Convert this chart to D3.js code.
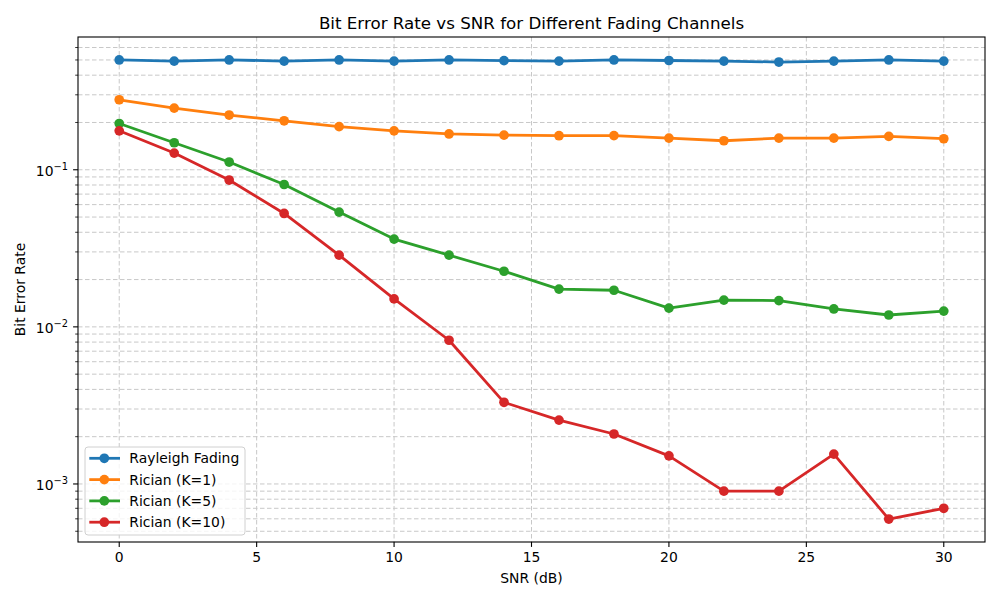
<!DOCTYPE html>
<html lang="en">
<head>
<meta charset="UTF-8">
<title>Bit Error Rate vs SNR</title>
<script src="https://cdnjs.cloudflare.com/ajax/libs/d3/7.9.0/d3.min.js"></script>
<style>
  body { margin: 0; background: #fff; font-family: 'DejaVu Sans', sans-serif; }
  svg text { font-family: 'DejaVu Sans', sans-serif; fill: #000; }
</style>
</head>
<body>
<div id="root"></div>
<script>
// data
const snr = [0, 2, 4, 6, 8, 10, 12, 14, 16, 18, 20, 22, 24, 26, 28, 30]
const rayleigh = [0.500, 0.492, 0.500, 0.492, 0.500, 0.492, 0.500, 0.495, 0.492, 0.500, 0.496, 0.492, 0.485, 0.492, 0.500, 0.492]
const ricianK1 = [0.279, 0.247, 0.223, 0.205, 0.188, 0.177, 0.169, 0.166, 0.1647, 0.165, 0.159, 0.153, 0.159, 0.159, 0.163, 0.1576]
const ricianK5 = [0.197, 0.1486, 0.112, 0.0806, 0.0538, 0.0362, 0.0286, 0.0226, 0.0174, 0.0171, 0.01315, 0.0148, 0.0147, 0.0130, 0.0119, 0.0126]
const ricianK10 = [0.177, 0.1277, 0.0860, 0.0527, 0.0286, 0.01507, 0.00822, 0.00331, 0.00255, 0.00208, 0.00151, 0.00090, 0.00090, 0.00155, 0.000598, 0.00070]
const seriesNames = ['Rayleigh Fading', 'Rician (K=1)', 'Rician (K=5)', 'Rician (K=10)']
const colors = ['#1f77b4', '#ff7f0e', '#2ca02c', '#d62728']
const xTicks = [0, 5, 10, 15, 20, 25, 30]
const yMajorExp = [-3, -2, -1]

const series = [rayleigh, ricianK1, ricianK5, ricianK10].map((vals, i) => ({
    name: seriesNames[i],
    color: colors[i],
    points: vals.map((v, j) => ({ x: snr[j], y: v }))
}))

const W = 1000, H = 600
const margin = { top: 37, left: 78, right: 15, bottom: 58 }
const w = W - margin.left - margin.right
const h = H - margin.top - margin.bottom

const svg = d3.select('#root').append('svg')
    .attr('width', W).attr('height', H)

// matplotlib style 5% margins (log space for y)
const xPad = (d3.max(snr) - d3.min(snr)) * 0.05
const xScale = d3.scaleLinear()
    .domain([d3.min(snr) - xPad, d3.max(snr) + xPad])
    .range([0, w])

const allVals = series.flatMap(s => s.points.map(p => Math.log10(p.y)))
const lmin = d3.min(allVals), lmax = d3.max(allVals)
const lPad = (lmax - lmin) * 0.05
const yScale = d3.scaleLog()
    .domain([Math.pow(10, lmin - lPad), Math.pow(10, lmax + lPad)])
    .range([h, 0])

const g = svg.append('g').attr('transform', `translate(${margin.left},${margin.top})`)

// minor + major y values inside domain
const [ylo, yhi] = yScale.domain()
const yAll = []
for (let e = -5; e <= 1; e++) {
    for (let m = 1; m < 10; m++) {
        const v = m * Math.pow(10, e)
        if (v >= ylo && v <= yhi) yAll.push({ v, major: m === 1 })
    }
}

// grid
const grid = g.append('g').attr('class', 'grid')
grid.selectAll('.gy').data(yAll).enter().append('line')
    .attr('x1', 0).attr('x2', w)
    .attr('y1', d => yScale(d.v)).attr('y2', d => yScale(d.v))
    .attr('stroke', '#c8c8c8').attr('stroke-width', 1)
    .attr('stroke-dasharray', '4.5,2.5')
grid.selectAll('.gx').data(xTicks).enter().append('line')
    .attr('y1', 0).attr('y2', h)
    .attr('x1', d => xScale(d)).attr('x2', d => xScale(d))
    .attr('stroke', '#c8c8c8').attr('stroke-width', 1)
    .attr('stroke-dasharray', '4.5,2.5')

// lines + markers
const line = d3.line().x(d => xScale(d.x)).y(d => yScale(d.y))
series.forEach(s => {
    g.append('path')
        .datum(s.points)
        .attr('d', line)
        .attr('fill', 'none')
        .attr('stroke', s.color)
        .attr('stroke-width', 2.78)
        .attr('stroke-linejoin', 'round')
    g.selectAll(null).data(s.points).enter().append('circle')
        .attr('cx', d => xScale(d.x))
        .attr('cy', d => yScale(d.y))
        .attr('r', 4.85)
        .attr('fill', s.color)
})

// frame
g.append('rect').attr('x', 0).attr('y', 0).attr('width', w).attr('height', h)
    .attr('fill', 'none').attr('stroke', '#000').attr('stroke-width', 1.1)

// x axis
const xAxis = g.append('g').attr('transform', `translate(0,${h})`)
xAxis.selectAll('line').data(xTicks).enter().append('line')
    .attr('x1', d => xScale(d)).attr('x2', d => xScale(d))
    .attr('y1', 0).attr('y2', 4.9)
    .attr('stroke', '#000').attr('stroke-width', 1.1)
xAxis.selectAll('text').data(xTicks).enter().append('text')
    .attr('x', d => xScale(d)).attr('y', 19.5)
    .attr('text-anchor', 'middle')
    .style('font-size', '13.9px')
    .text(d => d)

// y axis ticks
const yAxis = g.append('g')
yAxis.selectAll('line').data(yAll).enter().append('line')
    .attr('x1', d => d.major ? -4.9 : -2.8).attr('x2', 0)
    .attr('y1', d => yScale(d.v)).attr('y2', d => yScale(d.v))
    .attr('stroke', '#000').attr('stroke-width', d => d.major ? 1.1 : 0.8)
const yLab = yAxis.selectAll('text').data(yMajorExp).enter().append('text')
    .attr('x', -10).attr('y', d => yScale(Math.pow(10, d)) + 6)
    .attr('text-anchor', 'end')
    .style('font-size', '13.9px')
yLab.append('tspan').text('10')
yLab.append('tspan').attr('dy', -6).style('font-size', '9.8px').text(d => '\u2212' + Math.abs(d))

// axis labels + title
svg.append('text')
    .attr('x', margin.left + w / 2).attr('y', 583)
    .attr('text-anchor', 'middle').style('font-size', '13.9px')
    .text('SNR (dB)')
svg.append('text')
    .attr('transform', `translate(25,${margin.top + h / 2}) rotate(-90)`)
    .attr('text-anchor', 'middle').style('font-size', '13.9px')
    .text('Bit Error Rate')
svg.append('text')
    .attr('x', margin.left + w / 2).attr('y', 29)
    .attr('text-anchor', 'middle').style('font-size', '16.7px')
    .text('Bit Error Rate vs SNR for Different Fading Channels')

// legend
const legend = svg.append('g').attr('transform', 'translate(85,447)')
legend.append('rect')
    .attr('width', 160).attr('height', 88).attr('rx', 3)
    .attr('fill', '#fff').attr('fill-opacity', 0.8)
    .attr('stroke', '#d0d0d0').attr('stroke-width', 1)
const items = legend.selectAll('.item').data(series).enter().append('g')
    .attr('transform', (d, i) => `translate(0,${11.3 + i * 21.3})`)
items.append('line')
    .attr('x1', 4.3).attr('x2', 35)
    .attr('stroke', d => d.color).attr('stroke-width', 2.78)
items.append('circle').attr('cx', 19.3).attr('r', 4.85).attr('fill', d => d.color)
items.append('text').attr('x', 44.3).attr('y', 5)
    .style('font-size', '13.9px')
    .text(d => d.name)
</script>
</body>
</html>
